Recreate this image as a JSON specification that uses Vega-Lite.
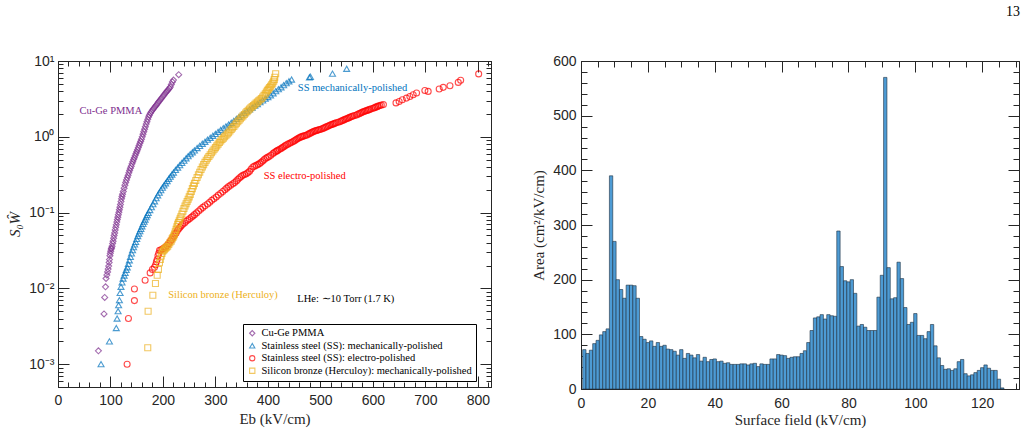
{
"$schema": "https://vega.github.io/schema/vega-lite/v6.json",
"padding": {"left": 7, "top": 4, "right": 8, "bottom": 0},
"title": {"text": "13", "anchor": "end", "font": "Liberation Serif", "fontSize": 14, "fontWeight": "normal", "color": "black", "offset": 35},
"spacing": 39,
"datasets": {
"pts": [
{"g":"A","e":77,"v":0.0015},{"g":"A","e":87.7,"v":0.0046},{"g":"A","e":89,"v":0.0076},{"g":"A","e":90.5,"v":0.0105},{"g":"A","e":91.5,"v":0.0135},{"g":"A","e":93,"v":0.015},{"g":"A","e":94.5,"v":0.0165},{"g":"A","e":95.5,"v":0.018},{"g":"A","e":96.5,"v":0.0197},{"g":"A","e":97.5,"v":0.022},{"g":"A","e":98,"v":0.024},{"g":"A","e":99,"v":0.027},{"g":"A","e":99.6,"v":0.029},{"g":"A","e":100.5,"v":0.031},{"g":"A","e":101.3,"v":0.033},{"g":"A","e":102,"v":0.034},{"g":"A","e":103,"v":0.036},{"g":"A","e":104,"v":0.039},{"g":"A","e":105,"v":0.042},{"g":"A","e":106,"v":0.046},{"g":"A","e":107,"v":0.05},{"g":"A","e":108,"v":0.054},{"g":"A","e":109,"v":0.059},{"g":"A","e":110,"v":0.064},{"g":"A","e":111,"v":0.069},{"g":"A","e":112,"v":0.075},{"g":"A","e":113,"v":0.081},{"g":"A","e":114,"v":0.087},{"g":"A","e":115,"v":0.094},{"g":"A","e":116,"v":0.101},{"g":"A","e":117,"v":0.109},{"g":"A","e":118,"v":0.118},{"g":"A","e":119,"v":0.128},{"g":"A","e":120,"v":0.14},{"g":"A","e":121,"v":0.152},{"g":"A","e":122,"v":0.163},{"g":"A","e":123,"v":0.175},{"g":"A","e":124.5,"v":0.19},{"g":"A","e":126,"v":0.21},{"g":"A","e":127.5,"v":0.23},{"g":"A","e":129,"v":0.25},{"g":"A","e":130.5,"v":0.27},{"g":"A","e":132,"v":0.29},{"g":"A","e":133.5,"v":0.31},{"g":"A","e":135,"v":0.335},{"g":"A","e":136.5,"v":0.36},{"g":"A","e":138,"v":0.385},{"g":"A","e":139.5,"v":0.41},{"g":"A","e":141,"v":0.44},{"g":"A","e":142.5,"v":0.47},{"g":"A","e":144,"v":0.5},{"g":"A","e":145.5,"v":0.53},{"g":"A","e":147,"v":0.565},{"g":"A","e":148.5,"v":0.6},{"g":"A","e":150,"v":0.635},{"g":"A","e":151.5,"v":0.675},{"g":"A","e":153,"v":0.72},{"g":"A","e":154.5,"v":0.77},{"g":"A","e":156,"v":0.82},{"g":"A","e":157.5,"v":0.87},{"g":"A","e":159,"v":0.93},{"g":"A","e":160.5,"v":1.0},{"g":"A","e":162,"v":1.08},{"g":"A","e":163.5,"v":1.17},{"g":"A","e":165,"v":1.26},{"g":"A","e":166.5,"v":1.36},{"g":"A","e":168,"v":1.47},{"g":"A","e":169.5,"v":1.58},{"g":"A","e":171,"v":1.7},{"g":"A","e":172.5,"v":1.82},{"g":"A","e":174,"v":1.93},{"g":"A","e":176,"v":2.05},{"g":"A","e":178,"v":2.15},{"g":"A","e":180,"v":2.25},{"g":"A","e":182,"v":2.35},{"g":"A","e":184,"v":2.45},{"g":"A","e":186,"v":2.55},{"g":"A","e":188,"v":2.65},{"g":"A","e":190,"v":2.78},{"g":"A","e":192,"v":2.9},{"g":"A","e":194,"v":3.02},{"g":"A","e":196,"v":3.15},{"g":"A","e":198,"v":3.28},{"g":"A","e":200,"v":3.42},{"g":"A","e":202,"v":3.57},{"g":"A","e":204,"v":3.72},{"g":"A","e":206,"v":3.88},{"g":"A","e":208,"v":4.02},{"g":"A","e":210,"v":4.18},{"g":"A","e":212,"v":4.35},{"g":"A","e":214,"v":4.55},{"g":"A","e":216,"v":4.9},{"g":"A","e":218,"v":5.3},{"g":"A","e":220,"v":5.6},{"g":"A","e":230,"v":6.6},
{"g":"B","e":82,"v":0.001},{"g":"B","e":98,"v":0.002},{"g":"B","e":111,"v":0.003},{"g":"B","e":112.6,"v":0.004},{"g":"B","e":114.5,"v":0.005},{"g":"B","e":115.5,"v":0.006},{"g":"B","e":117,"v":0.007},{"g":"B","e":118.3,"v":0.0087},{"g":"B","e":120,"v":0.0105},{"g":"B","e":122,"v":0.012},{"g":"B","e":124,"v":0.0135},{"g":"B","e":126,"v":0.0148},{"g":"B","e":128,"v":0.016},{"g":"B","e":130,"v":0.0175},{"g":"B","e":132,"v":0.019},{"g":"B","e":134,"v":0.021},{"g":"B","e":136,"v":0.0235},{"g":"B","e":138,"v":0.026},{"g":"B","e":140,"v":0.029},{"g":"B","e":142,"v":0.032},{"g":"B","e":144,"v":0.035},{"g":"B","e":146,"v":0.038},{"g":"B","e":148,"v":0.041},{"g":"B","e":150,"v":0.045},{"g":"B","e":152,"v":0.049},{"g":"B","e":154,"v":0.053},{"g":"B","e":156,"v":0.057},{"g":"B","e":158,"v":0.061},{"g":"B","e":160,"v":0.066},{"g":"B","e":162,"v":0.071},{"g":"B","e":164,"v":0.076},{"g":"B","e":166,"v":0.081},{"g":"B","e":168,"v":0.087},{"g":"B","e":170,"v":0.093},{"g":"B","e":172,"v":0.099},{"g":"B","e":175,"v":0.108},{"g":"B","e":178,"v":0.118},{"g":"B","e":181,"v":0.129},{"g":"B","e":184,"v":0.141},{"g":"B","e":187,"v":0.155},{"g":"B","e":190,"v":0.169},{"g":"B","e":193,"v":0.183},{"g":"B","e":196,"v":0.198},{"g":"B","e":199,"v":0.213},{"g":"B","e":202,"v":0.228},{"g":"B","e":205,"v":0.244},{"g":"B","e":208,"v":0.261},{"g":"B","e":211,"v":0.279},{"g":"B","e":214,"v":0.298},{"g":"B","e":217,"v":0.318},{"g":"B","e":220,"v":0.338},{"g":"B","e":224,"v":0.365},{"g":"B","e":228,"v":0.393},{"g":"B","e":232,"v":0.423},{"g":"B","e":236,"v":0.453},{"g":"B","e":240,"v":0.485},{"g":"B","e":244,"v":0.52},{"g":"B","e":248,"v":0.555},{"g":"B","e":252,"v":0.59},{"g":"B","e":256,"v":0.625},{"g":"B","e":260,"v":0.66},{"g":"B","e":265,"v":0.71},{"g":"B","e":270,"v":0.76},{"g":"B","e":275,"v":0.81},{"g":"B","e":280,"v":0.86},{"g":"B","e":285,"v":0.915},{"g":"B","e":290,"v":0.97},{"g":"B","e":295,"v":1.03},{"g":"B","e":300,"v":1.09},{"g":"B","e":305,"v":1.16},{"g":"B","e":310,"v":1.23},{"g":"B","e":315,"v":1.3},{"g":"B","e":320,"v":1.37},{"g":"B","e":325,"v":1.45},{"g":"B","e":330,"v":1.53},{"g":"B","e":335,"v":1.62},{"g":"B","e":340,"v":1.72},{"g":"B","e":345,"v":1.83},{"g":"B","e":350,"v":1.94},{"g":"B","e":355,"v":2.05},{"g":"B","e":360,"v":2.18},{"g":"B","e":365,"v":2.3},{"g":"B","e":370,"v":2.43},{"g":"B","e":375,"v":2.57},{"g":"B","e":380,"v":2.71},{"g":"B","e":385,"v":2.86},{"g":"B","e":390,"v":3.02},{"g":"B","e":395,"v":3.18},{"g":"B","e":400,"v":3.35},{"g":"B","e":405,"v":3.53},{"g":"B","e":410,"v":3.75},{"g":"B","e":415,"v":4.0},{"g":"B","e":420,"v":4.25},{"g":"B","e":425,"v":4.5},{"g":"B","e":430,"v":4.8},{"g":"B","e":435,"v":5.1},{"g":"B","e":440,"v":5.4},{"g":"B","e":445,"v":5.7},{"g":"B","e":479,"v":6.1},{"g":"B","e":481,"v":6.2},{"g":"B","e":523,"v":6.8},{"g":"B","e":550,"v":7.9},
{"g":"C","e":131.7,"v":0.001},{"g":"C","e":134.2,"v":0.004},{"g":"C","e":145.6,"v":0.0069},{"g":"C","e":145.6,"v":0.0098},{"g":"C","e":166,"v":0.0128},{"g":"C","e":175.6,"v":0.016},{"g":"C","e":180,"v":0.0178},{"g":"C","e":183.8,"v":0.019},{"g":"C","e":186,"v":0.0205},{"g":"C","e":187.5,"v":0.0225},{"g":"C","e":189,"v":0.024},{"g":"C","e":190.5,"v":0.027},{"g":"C","e":192,"v":0.029},{"g":"C","e":193.5,"v":0.0318},{"g":"C","e":196,"v":0.032},{"g":"C","e":199,"v":0.033},{"g":"C","e":202,"v":0.034},{"g":"C","e":205,"v":0.035},{"g":"C","e":208,"v":0.037},{"g":"C","e":211,"v":0.039},{"g":"C","e":214,"v":0.042},{"g":"C","e":216.5,"v":0.044},{"g":"C","e":218.7,"v":0.047},{"g":"C","e":221,"v":0.049},{"g":"C","e":223,"v":0.052},{"g":"C","e":225,"v":0.054},{"g":"C","e":227.5,"v":0.058},{"g":"C","e":230,"v":0.061},{"g":"C","e":232.5,"v":0.064},{"g":"C","e":234.7,"v":0.067},{"g":"C","e":237.5,"v":0.07},{"g":"C","e":241,"v":0.073},{"g":"C","e":244,"v":0.077},{"g":"C","e":247.3,"v":0.08},{"g":"C","e":250.5,"v":0.083},{"g":"C","e":254,"v":0.087},{"g":"C","e":257,"v":0.09},{"g":"C","e":260.1,"v":0.094},{"g":"C","e":264,"v":0.099},{"g":"C","e":268,"v":0.105},{"g":"C","e":272,"v":0.111},{"g":"C","e":276,"v":0.117},{"g":"C","e":280,"v":0.123},{"g":"C","e":285,"v":0.13},{"g":"C","e":289,"v":0.137},{"g":"C","e":293,"v":0.145},{"g":"C","e":297,"v":0.152},{"g":"C","e":301.5,"v":0.16},{"g":"C","e":305.5,"v":0.17},{"g":"C","e":310,"v":0.18},{"g":"C","e":314,"v":0.19},{"g":"C","e":318,"v":0.2},{"g":"C","e":321.5,"v":0.21},{"g":"C","e":325,"v":0.22},{"g":"C","e":329,"v":0.23},{"g":"C","e":333.2,"v":0.24},{"g":"C","e":336.5,"v":0.25},{"g":"C","e":340,"v":0.262},{"g":"C","e":343,"v":0.275},{"g":"C","e":346,"v":0.288},{"g":"C","e":349,"v":0.3},{"g":"C","e":352,"v":0.31},{"g":"C","e":355.5,"v":0.318},{"g":"C","e":358.8,"v":0.326},{"g":"C","e":362,"v":0.337},{"g":"C","e":365,"v":0.35},{"g":"C","e":368,"v":0.375},{"g":"C","e":371.4,"v":0.4},{"g":"C","e":374.5,"v":0.41},{"g":"C","e":378,"v":0.42},{"g":"C","e":381,"v":0.432},{"g":"C","e":384.2,"v":0.443},{"g":"C","e":387,"v":0.46},{"g":"C","e":390,"v":0.48},{"g":"C","e":393,"v":0.5},{"g":"C","e":396,"v":0.52},{"g":"C","e":399,"v":0.535},{"g":"C","e":402,"v":0.55},{"g":"C","e":405.5,"v":0.57},{"g":"C","e":409.5,"v":0.6},{"g":"C","e":412,"v":0.62},{"g":"C","e":415,"v":0.64},{"g":"C","e":417,"v":0.652},{"g":"C","e":419,"v":0.665},{"g":"C","e":422,"v":0.683},{"g":"C","e":425,"v":0.7},{"g":"C","e":427.5,"v":0.72},{"g":"C","e":430,"v":0.74},{"g":"C","e":432.5,"v":0.76},{"g":"C","e":435,"v":0.78},{"g":"C","e":438,"v":0.8},{"g":"C","e":441.4,"v":0.82},{"g":"C","e":444,"v":0.84},{"g":"C","e":447,"v":0.86},{"g":"C","e":449.5,"v":0.88},{"g":"C","e":452,"v":0.9},{"g":"C","e":454.5,"v":0.925},{"g":"C","e":457,"v":0.95},{"g":"C","e":459.5,"v":0.97},{"g":"C","e":462,"v":0.99},{"g":"C","e":464.5,"v":1.005},{"g":"C","e":467,"v":1.02},{"g":"C","e":470,"v":1.035},{"g":"C","e":473.3,"v":1.05},{"g":"C","e":476,"v":1.075},{"g":"C","e":479,"v":1.1},{"g":"C","e":481.5,"v":1.125},{"g":"C","e":484,"v":1.15},{"g":"C","e":486.5,"v":1.17},{"g":"C","e":489,"v":1.19},{"g":"C","e":491.5,"v":1.205},{"g":"C","e":494,"v":1.22},{"g":"C","e":496.5,"v":1.235},{"g":"C","e":499,"v":1.25},{"g":"C","e":502,"v":1.27},{"g":"C","e":505,"v":1.29},{"g":"C","e":507.5,"v":1.315},{"g":"C","e":510,"v":1.34},{"g":"C","e":512.5,"v":1.365},{"g":"C","e":515,"v":1.39},{"g":"C","e":517.5,"v":1.415},{"g":"C","e":520,"v":1.44},{"g":"C","e":522.5,"v":1.46},{"g":"C","e":525,"v":1.48},{"g":"C","e":527.5,"v":1.505},{"g":"C","e":530,"v":1.53},{"g":"C","e":533.5,"v":1.555},{"g":"C","e":536.8,"v":1.58},{"g":"C","e":539.5,"v":1.61},{"g":"C","e":542,"v":1.64},{"g":"C","e":544.5,"v":1.67},{"g":"C","e":547,"v":1.7},{"g":"C","e":549.5,"v":1.73},{"g":"C","e":552,"v":1.76},{"g":"C","e":554.5,"v":1.79},{"g":"C","e":557,"v":1.82},{"g":"C","e":559.5,"v":1.85},{"g":"C","e":562,"v":1.88},{"g":"C","e":565,"v":1.91},{"g":"C","e":568.7,"v":1.94},{"g":"C","e":571,"v":1.98},{"g":"C","e":574,"v":2.02},{"g":"C","e":576.5,"v":2.06},{"g":"C","e":579,"v":2.1},{"g":"C","e":581.5,"v":2.135},{"g":"C","e":584,"v":2.17},{"g":"C","e":586.5,"v":2.2},{"g":"C","e":589,"v":2.23},{"g":"C","e":591.5,"v":2.265},{"g":"C","e":594,"v":2.3},{"g":"C","e":597,"v":2.34},{"g":"C","e":600.4,"v":2.38},{"g":"C","e":603,"v":2.42},{"g":"C","e":605,"v":2.46},{"g":"C","e":608,"v":2.5},{"g":"C","e":610,"v":2.54},{"g":"C","e":613,"v":2.58},{"g":"C","e":616,"v":2.62},{"g":"C","e":620,"v":2.66},{"g":"C","e":644,"v":2.8},{"g":"C","e":650,"v":2.92},{"g":"C","e":656,"v":3.08},{"g":"C","e":664,"v":3.24},{"g":"C","e":670.4,"v":3.4},{"g":"C","e":676.7,"v":3.58},{"g":"C","e":683.2,"v":3.78},{"g":"C","e":699,"v":4.09},{"g":"C","e":705.3,"v":3.97},{"g":"C","e":726.3,"v":4.27},{"g":"C","e":734,"v":4.49},{"g":"C","e":746.8,"v":4.72},{"g":"C","e":762.6,"v":5.22},{"g":"C","e":767.2,"v":5.56},{"g":"C","e":801.5,"v":6.76},
{"g":"D","e":171,"v":0.00165},{"g":"D","e":171.7,"v":0.005},{"g":"D","e":180.7,"v":0.0081},{"g":"D","e":185.7,"v":0.0116},{"g":"D","e":189,"v":0.0149},{"g":"D","e":191.4,"v":0.0178},{"g":"D","e":193.3,"v":0.0218},{"g":"D","e":195,"v":0.024},{"g":"D","e":196.6,"v":0.0267},{"g":"D","e":198,"v":0.029},{"g":"D","e":199.6,"v":0.031},{"g":"D","e":201.5,"v":0.032},{"g":"D","e":203,"v":0.033},{"g":"D","e":205,"v":0.034},{"g":"D","e":207,"v":0.035},{"g":"D","e":209,"v":0.036},{"g":"D","e":211,"v":0.038},{"g":"D","e":213,"v":0.04},{"g":"D","e":215.6,"v":0.042},{"g":"D","e":217.5,"v":0.045},{"g":"D","e":219,"v":0.047},{"g":"D","e":220.5,"v":0.049},{"g":"D","e":222,"v":0.052},{"g":"D","e":223.5,"v":0.056},{"g":"D","e":225,"v":0.06},{"g":"D","e":226.5,"v":0.065},{"g":"D","e":228,"v":0.07},{"g":"D","e":229.5,"v":0.074},{"g":"D","e":231,"v":0.078},{"g":"D","e":232.5,"v":0.083},{"g":"D","e":234,"v":0.088},{"g":"D","e":236,"v":0.096},{"g":"D","e":238,"v":0.104},{"g":"D","e":240,"v":0.113},{"g":"D","e":242,"v":0.122},{"g":"D","e":244,"v":0.131},{"g":"D","e":246,"v":0.14},{"g":"D","e":248,"v":0.15},{"g":"D","e":250,"v":0.161},{"g":"D","e":252,"v":0.174},{"g":"D","e":254,"v":0.19},{"g":"D","e":256,"v":0.207},{"g":"D","e":258,"v":0.225},{"g":"D","e":260,"v":0.243},{"g":"D","e":262.5,"v":0.265},{"g":"D","e":265,"v":0.29},{"g":"D","e":267.5,"v":0.315},{"g":"D","e":270,"v":0.34},{"g":"D","e":272.5,"v":0.37},{"g":"D","e":275,"v":0.4},{"g":"D","e":277.5,"v":0.43},{"g":"D","e":280,"v":0.46},{"g":"D","e":282.5,"v":0.49},{"g":"D","e":285,"v":0.52},{"g":"D","e":287.5,"v":0.55},{"g":"D","e":290,"v":0.58},{"g":"D","e":292.5,"v":0.615},{"g":"D","e":295,"v":0.65},{"g":"D","e":297.5,"v":0.685},{"g":"D","e":300,"v":0.72},{"g":"D","e":302.5,"v":0.76},{"g":"D","e":305,"v":0.8},{"g":"D","e":307.5,"v":0.84},{"g":"D","e":310,"v":0.88},{"g":"D","e":312.5,"v":0.92},{"g":"D","e":315,"v":0.96},{"g":"D","e":317.5,"v":1.0},{"g":"D","e":320,"v":1.05},{"g":"D","e":322.5,"v":1.09},{"g":"D","e":325,"v":1.13},{"g":"D","e":327.5,"v":1.19},{"g":"D","e":330,"v":1.25},{"g":"D","e":332.5,"v":1.31},{"g":"D","e":335,"v":1.37},{"g":"D","e":337.5,"v":1.44},{"g":"D","e":340,"v":1.51},{"g":"D","e":342.5,"v":1.58},{"g":"D","e":345,"v":1.65},{"g":"D","e":347.5,"v":1.73},{"g":"D","e":350,"v":1.81},{"g":"D","e":352.5,"v":1.89},{"g":"D","e":355,"v":1.97},{"g":"D","e":357.5,"v":2.06},{"g":"D","e":360,"v":2.15},{"g":"D","e":362.5,"v":2.24},{"g":"D","e":365,"v":2.33},{"g":"D","e":367.5,"v":2.42},{"g":"D","e":370,"v":2.5},{"g":"D","e":372.5,"v":2.59},{"g":"D","e":375,"v":2.68},{"g":"D","e":377.5,"v":2.78},{"g":"D","e":380,"v":2.88},{"g":"D","e":382.5,"v":2.98},{"g":"D","e":385,"v":3.08},{"g":"D","e":387.5,"v":3.2},{"g":"D","e":390,"v":3.35},{"g":"D","e":392.5,"v":3.52},{"g":"D","e":395,"v":3.7},{"g":"D","e":397,"v":3.9},{"g":"D","e":399,"v":4.1},{"g":"D","e":401,"v":4.25},{"g":"D","e":403,"v":4.45},{"g":"D","e":405,"v":4.65},{"g":"D","e":407,"v":4.85},{"g":"D","e":409,"v":5.1},{"g":"D","e":411,"v":5.4},{"g":"D","e":412,"v":5.7},{"g":"D","e":413,"v":6.1},{"g":"D","e":414.7,"v":6.8}
],
"hist": [
{"lo":0.5,"hi":1.5,"a":72},{"lo":1.5,"hi":2.5,"a":65},{"lo":2.5,"hi":3.5,"a":71},{"lo":3.5,"hi":4.5,"a":83},{"lo":4.5,"hi":5.5,"a":89},{"lo":5.5,"hi":6.5,"a":99},{"lo":6.5,"hi":7.5,"a":105},{"lo":7.5,"hi":8.5,"a":110},{"lo":8.5,"hi":9.5,"a":390},{"lo":9.5,"hi":10.5,"a":270},
{"lo":10.5,"hi":11.5,"a":200},{"lo":11.5,"hi":12.5,"a":182},{"lo":12.5,"hi":13.5,"a":166},{"lo":13.5,"hi":14.5,"a":190},{"lo":14.5,"hi":15.5,"a":190},{"lo":15.5,"hi":16.5,"a":189},{"lo":16.5,"hi":17.5,"a":166},{"lo":17.5,"hi":18.5,"a":96},{"lo":18.5,"hi":19.5,"a":91},{"lo":19.5,"hi":20.5,"a":85},
{"lo":20.5,"hi":21.5,"a":88},{"lo":21.5,"hi":22.5,"a":78},{"lo":22.5,"hi":23.5,"a":85},{"lo":23.5,"hi":24.5,"a":78},{"lo":24.5,"hi":25.5,"a":80},{"lo":25.5,"hi":26.5,"a":73},{"lo":26.5,"hi":27.5,"a":72},{"lo":27.5,"hi":28.5,"a":69},{"lo":28.5,"hi":29.5,"a":62},{"lo":29.5,"hi":30.5,"a":72},
{"lo":30.5,"hi":31.5,"a":56},{"lo":31.5,"hi":32.5,"a":65},{"lo":32.5,"hi":33.5,"a":62},{"lo":33.5,"hi":34.5,"a":57},{"lo":34.5,"hi":35.5,"a":63},{"lo":35.5,"hi":36.5,"a":51},{"lo":36.5,"hi":37.5,"a":58},{"lo":37.5,"hi":38.5,"a":50},{"lo":38.5,"hi":39.5,"a":54},{"lo":39.5,"hi":40.5,"a":55},
{"lo":40.5,"hi":41.5,"a":50},{"lo":41.5,"hi":42.5,"a":51},{"lo":42.5,"hi":43.5,"a":47},{"lo":43.5,"hi":44.5,"a":48},{"lo":44.5,"hi":45.5,"a":45},{"lo":45.5,"hi":46.5,"a":45},{"lo":46.5,"hi":47.5,"a":45},{"lo":47.5,"hi":48.5,"a":46},{"lo":48.5,"hi":49.5,"a":46},{"lo":49.5,"hi":50.5,"a":44},
{"lo":50.5,"hi":51.5,"a":46},{"lo":51.5,"hi":52.5,"a":47},{"lo":52.5,"hi":53.5,"a":41},{"lo":53.5,"hi":54.5,"a":46},{"lo":54.5,"hi":55.5,"a":45},{"lo":55.5,"hi":56.5,"a":45},{"lo":56.5,"hi":57.5,"a":55},{"lo":57.5,"hi":58.5,"a":55},{"lo":58.5,"hi":59.5,"a":63},{"lo":59.5,"hi":60.5,"a":62},
{"lo":60.5,"hi":61.5,"a":61},{"lo":61.5,"hi":62.5,"a":56},{"lo":62.5,"hi":63.5,"a":58},{"lo":63.5,"hi":64.5,"a":59},{"lo":64.5,"hi":65.5,"a":59},{"lo":65.5,"hi":66.5,"a":65},{"lo":66.5,"hi":67.5,"a":70},{"lo":67.5,"hi":68.5,"a":85},{"lo":68.5,"hi":69.5,"a":107},{"lo":69.5,"hi":70.5,"a":130},
{"lo":70.5,"hi":71.5,"a":132},{"lo":71.5,"hi":72.5,"a":136},{"lo":72.5,"hi":73.5,"a":128},{"lo":73.5,"hi":74.5,"a":136},{"lo":74.5,"hi":75.5,"a":134},{"lo":75.5,"hi":76.5,"a":133},{"lo":76.5,"hi":77.5,"a":289},{"lo":77.5,"hi":78.5,"a":224},{"lo":78.5,"hi":79.5,"a":198},{"lo":79.5,"hi":80.5,"a":196},
{"lo":80.5,"hi":81.5,"a":200},{"lo":81.5,"hi":82.5,"a":175},{"lo":82.5,"hi":83.5,"a":115},{"lo":83.5,"hi":84.5,"a":118},{"lo":84.5,"hi":85.5,"a":113},{"lo":85.5,"hi":86.5,"a":107},{"lo":86.5,"hi":87.5,"a":107},{"lo":87.5,"hi":88.5,"a":107},{"lo":88.5,"hi":89.5,"a":168},{"lo":89.5,"hi":90.5,"a":208},
{"lo":90.5,"hi":91.5,"a":570},{"lo":91.5,"hi":92.5,"a":222},{"lo":92.5,"hi":93.5,"a":165},{"lo":93.5,"hi":94.5,"a":167},{"lo":94.5,"hi":95.5,"a":232},{"lo":95.5,"hi":96.5,"a":202},{"lo":96.5,"hi":97.5,"a":149},{"lo":97.5,"hi":98.5,"a":118},{"lo":98.5,"hi":99.5,"a":122},{"lo":99.5,"hi":100.5,"a":138},
{"lo":100.5,"hi":101.5,"a":98},{"lo":101.5,"hi":102.5,"a":98},{"lo":102.5,"hi":103.5,"a":92},{"lo":103.5,"hi":104.5,"a":105},{"lo":104.5,"hi":105.5,"a":118},{"lo":105.5,"hi":106.5,"a":79},{"lo":106.5,"hi":107.5,"a":57},{"lo":107.5,"hi":108.5,"a":43},{"lo":108.5,"hi":109.5,"a":36},{"lo":109.5,"hi":110.5,"a":37},
{"lo":110.5,"hi":111.5,"a":34},{"lo":111.5,"hi":112.5,"a":37},{"lo":112.5,"hi":113.5,"a":50},{"lo":113.5,"hi":114.5,"a":54},{"lo":114.5,"hi":115.5,"a":28},{"lo":115.5,"hi":116.5,"a":24},{"lo":116.5,"hi":117.5,"a":26},{"lo":117.5,"hi":118.5,"a":30},{"lo":118.5,"hi":119.5,"a":34},{"lo":119.5,"hi":120.5,"a":39},
{"lo":120.5,"hi":121.5,"a":44},{"lo":121.5,"hi":122.5,"a":38},{"lo":122.5,"hi":123.5,"a":34},{"lo":123.5,"hi":124.5,"a":34},{"lo":124.5,"hi":125.5,"a":18},{"lo":125.5,"hi":126.5,"a":2}
]
},
"hconcat": [
{
"width": 433, "height": 326,
"layer": [
{
"data": {"name": "pts"},
"mark": {"type": "point", "filled": false, "size": 36, "strokeWidth": 1.1},
"encoding": {
"x": {"field": "e", "type": "quantitative", "scale": {"domain": [0, 825], "nice": false, "zero": false},
 "axis": {"orient": "bottom", "values": [0,20,40,60,80,100,120,140,160,180,200,220,240,260,280,300,320,340,360,380,400,420,440,460,480,500,520,540,560,580,600,620,640,660,680,700,720,740,760,780,800,820],
  "labelExpr": "datum.value % 100 === 0 ? datum.label : ''",
  "tickSize": {"condition": {"test": "datum.value % 100 === 0", "value": -11}, "value": -5},
  "labelPadding": 17, "title": "Eb (kV/cm)", "titlePadding": -2}},
"y": {"field": "v", "type": "quantitative", "scale": {"type": "log", "domain": [0.0005, 10], "nice": false},
 "axis": {"orient": "left", "values": [0.0005,0.0006,0.0007,0.0008,0.0009,0.001,0.002,0.003,0.004,0.005,0.006,0.007,0.008,0.009,0.01,0.02,0.03,0.04,0.05,0.06,0.07,0.08,0.09,0.1,0.2,0.3,0.4,0.5,0.6,0.7,0.8,0.9,1,2,3,4,5,6,7,8,9,10],
  "labelExpr": "datum.value == 10 ? '10¹' : datum.value == 1 ? '10⁰' : datum.value == 0.1 ? '10⁻¹' : datum.value == 0.01 ? '10⁻²' : datum.value == 0.001 ? '10⁻³' : ''",
  "tickSize": {"condition": {"test": "indexof([0.001,0.01,0.1,1,10], datum.value) >= 0", "value": -11}, "value": -5},
  "labelPadding": 15, "title": "S₀Ŵ", "titleFontStyle": "italic", "titlePadding": 6}},
"color": {"field": "g", "type": "nominal", "scale": {"domain": ["A","B","C","D"], "range": ["#7E2F8E","#0072BD","#FF0000","#EDB120"]},
 "legend": {"title": null, "orient": "none", "legendX": 185, "legendY": 263, "strokeColor": "#000", "fillColor": "#fff", "padding": 4, "labelFont": "Liberation Serif", "labelFontSize": 10.5, "labelColor": "#000", "labelLimit": 600, "symbolSize": 28, "symbolStrokeWidth": 1.1, "rowPadding": 1.5,
  "labelExpr": "datum.label == 'A' ? 'Cu-Ge PMMA' : datum.label == 'B' ? 'Stainless steel (SS): mechanically-polished' : datum.label == 'C' ? 'Stainless steel (SS): electro-polished' : 'Silicon bronze (Herculoy): mechanically-polished'"}},
"shape": {"field": "g", "type": "nominal", "scale": {"domain": ["A","B","C","D"], "range": ["diamond","triangle-up","circle","square"]},
 "legend": {"title": null, "orient": "none", "legendX": 185, "legendY": 263, "strokeColor": "#000", "fillColor": "#fff", "padding": 4, "labelFont": "Liberation Serif", "labelFontSize": 10.5, "labelColor": "#000", "labelLimit": 600, "symbolSize": 28, "symbolStrokeWidth": 1.1, "rowPadding": 1.5,
  "labelExpr": "datum.label == 'A' ? 'Cu-Ge PMMA' : datum.label == 'B' ? 'Stainless steel (SS): mechanically-polished' : datum.label == 'C' ? 'Stainless steel (SS): electro-polished' : 'Silicon bronze (Herculoy): mechanically-polished'"}}
}
},
{
"data": {"values": [{"t": "Cu-Ge PMMA", "e": 41, "v": 2.2}]},
"mark": {"type": "text", "align": "left", "baseline": "middle", "font": "Liberation Serif", "fontSize": 10.5, "color": "#7E2F8E"},
"encoding": {"x": {"field": "e", "type": "quantitative", "axis": null}, "y": {"field": "v", "type": "quantitative", "axis": null}, "text": {"field": "t"}}
},
{
"data": {"values": [{"t": "SS mechanically-polished", "e": 457, "v": 4.4}]},
"mark": {"type": "text", "align": "left", "baseline": "middle", "font": "Liberation Serif", "fontSize": 10.5, "color": "#0072BD"},
"encoding": {"x": {"field": "e", "type": "quantitative", "axis": null}, "y": {"field": "v", "type": "quantitative", "axis": null}, "text": {"field": "t"}}
},
{
"data": {"values": [{"t": "SS electro-polished", "e": 392, "v": 0.3}]},
"mark": {"type": "text", "align": "left", "baseline": "middle", "font": "Liberation Serif", "fontSize": 10.5, "color": "#FF0000"},
"encoding": {"x": {"field": "e", "type": "quantitative", "axis": null}, "y": {"field": "v", "type": "quantitative", "axis": null}, "text": {"field": "t"}}
},
{
"data": {"values": [{"t": "Silicon bronze (Herculoy)", "e": 210, "v": 0.0083}]},
"mark": {"type": "text", "align": "left", "baseline": "middle", "font": "Liberation Serif", "fontSize": 10.5, "color": "#EDB120"},
"encoding": {"x": {"field": "e", "type": "quantitative", "axis": null}, "y": {"field": "v", "type": "quantitative", "axis": null}, "text": {"field": "t"}}
},
{
"data": {"values": [{"t": "LHe: ∼10 Torr (1.7 K)", "e": 456, "v": 0.0072}]},
"mark": {"type": "text", "align": "left", "baseline": "middle", "font": "Liberation Serif", "fontSize": 10.5, "color": "#000"},
"encoding": {
"x": {"field": "e", "type": "quantitative", "axis": {"orient": "top", "values": [0,20,40,60,80,100,120,140,160,180,200,220,240,260,280,300,320,340,360,380,400,420,440,460,480,500,520,540,560,580,600,620,640,660,680,700,720,740,760,780,800,820], "labels": false, "title": null, "tickSize": {"condition": {"test": "datum.value % 100 === 0", "value": -11}, "value": -5}}},
"y": {"field": "v", "type": "quantitative", "axis": {"orient": "right", "values": [0.0005,0.0006,0.0007,0.0008,0.0009,0.001,0.002,0.003,0.004,0.005,0.006,0.007,0.008,0.009,0.01,0.02,0.03,0.04,0.05,0.06,0.07,0.08,0.09,0.1,0.2,0.3,0.4,0.5,0.6,0.7,0.8,0.9,1,2,3,4,5,6,7,8,9,10], "labels": false, "title": null, "tickSize": {"condition": {"test": "indexof([0.001,0.01,0.1,1,10], datum.value) >= 0", "value": -11}, "value": -5}}},
"text": {"field": "t"}
}
}
],
"resolve": {"axis": {"x": "independent", "y": "independent"}}
},
{
"width": 438, "height": 328,
"layer": [
{
"data": {"name": "hist"},
"mark": {"type": "bar", "fill": "#4D9BD4", "stroke": "#1d2f40", "strokeWidth": 0.6},
"encoding": {
"x": {"field": "lo", "type": "quantitative", "scale": {"domain": [0, 131], "nice": false, "zero": false},
 "axis": {"orient": "bottom", "values": [0,5,10,15,20,25,30,35,40,45,50,55,60,65,70,75,80,85,90,95,100,105,110,115,120,125,130],
  "labelExpr": "datum.value % 20 === 0 ? datum.label : ''",
  "tickSize": {"condition": {"test": "datum.value % 20 === 0", "value": -11}, "value": -6},
  "labelPadding": 18, "title": "Surface field (kV/cm)", "titlePadding": -3}},
"x2": {"field": "hi"},
"y": {"field": "a", "type": "quantitative", "scale": {"domain": [0, 600], "nice": false},
 "axis": {"orient": "left", "values": [0,20,40,60,80,100,120,140,160,180,200,220,240,260,280,300,320,340,360,380,400,420,440,460,480,500,520,540,560,580,600],
  "labelExpr": "datum.value % 100 === 0 ? datum.label : ''",
  "tickSize": {"condition": {"test": "datum.value % 100 === 0", "value": -11}, "value": -6},
  "labelPadding": 16, "title": "Area (cm²/kV/cm)", "titlePadding": 6}},
"y2": {"datum": 0}
}
},
{
"data": {"name": "hist"},
"mark": {"type": "point", "opacity": 0},
"encoding": {
"x": {"field": "lo", "type": "quantitative", "axis": {"orient": "top", "values": [0,5,10,15,20,25,30,35,40,45,50,55,60,65,70,75,80,85,90,95,100,105,110,115,120,125,130], "labels": false, "title": null, "tickSize": {"condition": {"test": "datum.value % 20 === 0", "value": -11}, "value": -6}}},
"y": {"field": "a", "type": "quantitative", "axis": {"orient": "right", "values": [0,20,40,60,80,100,120,140,160,180,200,220,240,260,280,300,320,340,360,380,400,420,440,460,480,500,520,540,560,580,600], "labels": false, "title": null, "tickSize": {"condition": {"test": "datum.value % 100 === 0", "value": -11}, "value": -6}}}
}
}
],
"resolve": {"axis": {"x": "independent", "y": "independent"}}
}
],
"config": {
"view": {"stroke": "#262626", "strokeWidth": 1},
"axis": {"domainColor": "#262626", "tickColor": "#262626", "labelColor": "#262626", "labelFont": "Liberation Sans", "labelFontSize": 14, "titleFont": "Liberation Serif", "titleFontSize": 15, "titleFontWeight": "normal", "titleColor": "#262626", "grid": false, "labelFlush": false, "labelOverlap": false, "domainWidth": 1, "tickWidth": 1}
}
}
